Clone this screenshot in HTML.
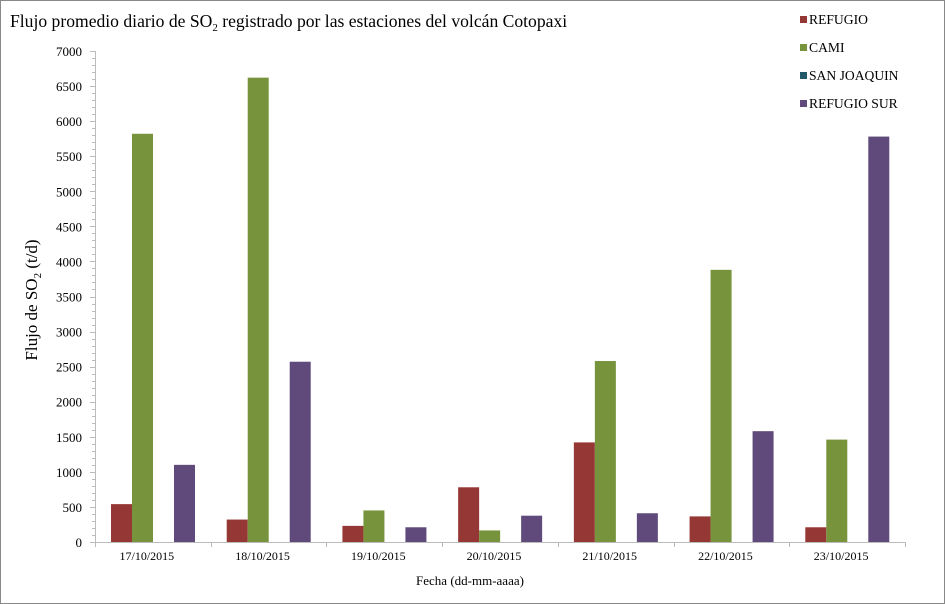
<!DOCTYPE html>
<html><head><meta charset="utf-8"><style>
html,body{margin:0;padding:0;background:#fff}
svg{display:block}
text{font-family:"Liberation Serif",serif;fill:#000}
</style></head><body>
<svg width="945" height="604" viewBox="0 0 945 604" xmlns="http://www.w3.org/2000/svg">
<rect x="0.5" y="0.5" width="944" height="603" fill="#fff" stroke="#888"/>
<text x="10" y="27" font-size="17.6">Flujo promedio diario de SO<tspan font-size="11" dy="4">2</tspan><tspan dy="-4"> registrado por las estaciones del volcán Cotopaxi</tspan></text>
<g font-size="13.6">
<rect x="800" y="16" width="7" height="7" fill="#953735"/><text x="809" y="24">REFUGIO</text>
<rect x="800" y="44" width="7" height="7" fill="#77933c"/><text x="809" y="52">CAMI</text>
<rect x="800" y="72" width="7" height="7" fill="#215968"/><text x="809" y="80">SAN JOAQUIN</text>
<rect x="800" y="100" width="7" height="7" fill="#604a7b"/><text x="809" y="108">REFUGIO SUR</text>
</g>
<g id="ax" stroke="#bbb" stroke-width="1"></g>
<g id="bars"></g>
<g id="lbl" font-size="13" text-anchor="end"></g>
<g id="xl" font-size="12" text-anchor="middle"></g>
<text x="470" y="585" font-size="13" text-anchor="middle">Fecha (dd-mm-aaaa)</text>
<text transform="translate(37,300) rotate(-90)" font-size="17" text-anchor="middle">Flujo de SO<tspan font-size="11" dy="4">2</tspan><tspan dy="-4"> (t/d)</tspan></text>
<script>
var ns="http://www.w3.org/2000/svg";
function el(p,t,a,tx){var e=document.createElementNS(ns,t);for(var k in a)e.setAttribute(k,a[k]);if(tx!==undefined)e.textContent=tx;document.getElementById(p).appendChild(e);}
var y0=542,y7=51,x0=95,x1=905;
function Y(v){return y0-(y0-y7)*v/7000;}
el("ax","line",{x1:x0+.5,y1:y7,x2:x0+.5,y2:y0});
el("ax","line",{x1:x0,y1:y0+.5,x2:x1,y2:y0+.5});
for(var v=0;v<=7000;v+=100){var y=Math.round(Y(v))+.5;el("ax","line",{x1:v%500==0?x0-5:x0-3,y1:y,x2:x0,y2:y});}
for(var v=0;v<=7000;v+=500)el("lbl","text",{x:82,y:Y(v)+5},String(v));
var cw=(x1-x0)/7;
for(var i=0;i<=7;i++){var x=Math.round(x0+i*cw)+.5;el("ax","line",{x1:x,y1:y0,x2:x,y2:y0+5});}
var d=[[540,5820,0,1100],[320,6620,0,2570],[230,450,0,210],[780,165,0,375],[1420,2580,0,410],[365,3880,0,1580],[210,1460,0,5780]];
var c=["#953735","#77933c","#215968","#604a7b"];
var dates=["17/10/2015","18/10/2015","19/10/2015","20/10/2015","21/10/2015","22/10/2015","23/10/2015"];
for(var i=0;i<7;i++){var s=x0+i*cw+16;
for(var j=0;j<4;j++){if(!d[i][j])continue;var y=Y(d[i][j]);el("bars","rect",{x:s+j*21,y:y,width:21,height:y0-y,fill:c[j]});}
el("xl","text",{x:x0+i*cw+cw/2-6,y:560},dates[i]);}
</script>
</svg>
</body></html>
